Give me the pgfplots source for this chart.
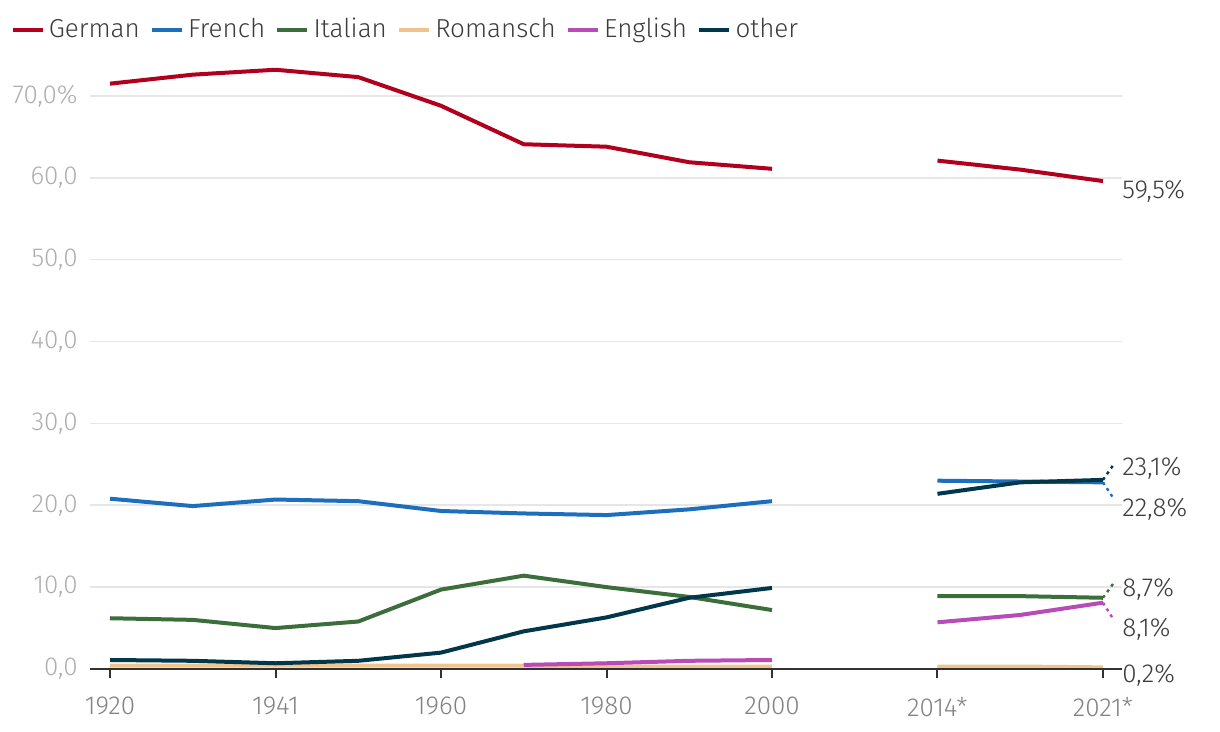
\documentclass[border=0pt]{standalone}
\usepackage{pgfplots}
\pgfplotsset{compat=1.18}
\usepackage{pgfplotstable}
\usepackage{fontspec}
\setmainfont{Fira Sans Light}
\definecolor{cGer}{RGB}{176,0,30}
\definecolor{cFre}{RGB}{30,110,190}
\definecolor{cIta}{RGB}{60,110,60}
\definecolor{cRom}{RGB}{240,195,140}
\definecolor{cEng}{RGB}{185,75,185}
\definecolor{cOth}{RGB}{0,55,75}
\definecolor{txt}{RGB}{60,60,60}
\definecolor{ylab}{RGB}{175,175,175}
\definecolor{xlab}{RGB}{130,130,130}
\definecolor{gridc}{RGB}{230,230,230}
\definecolor{axc}{RGB}{50,50,50}
\pgfplotstableread{
x German French Italian Romansch English other
0 71.5 20.8 6.2 0.4 nan 1.1
1 72.6 19.9 6.0 0.4 nan 1.0
2 73.2 20.7 5.0 0.4 nan 0.7
3 72.3 20.5 5.8 0.4 nan 1.0
4 68.8 19.3 9.7 0.4 nan 2.0
5 64.1 19.0 11.4 0.4 0.5 4.6
6 63.8 18.8 10.0 0.3 0.7 6.3
7 61.9 19.5 8.8 0.3 1.0 8.7
8 61.1 20.5 7.2 0.3 1.1 9.9
9 nan nan nan nan nan nan
10 62.1 23.0 8.9 0.3 5.7 21.4
11 61.0 22.9 8.9 0.3 6.6 22.8
12 59.6 22.8 8.7 0.2 8.1 23.1
}\data
\begin{document}
\fontsize{13}{15}\selectfont
\begin{tikzpicture}
\useasboundingbox (-45pt,-31.5pt) rectangle (565pt,334.5pt);
\begin{axis}[
  scale only axis,
  width=516pt, height=302.9pt,
  xmin=-0.242, xmax=12.23,
  ymin=0, ymax=74,
  unbounded coords=jump,
  clip=false,
  axis line style={draw=none},
  axis x line*=bottom,
  axis y line*=left,
  xtick={0,2,4,6,8,10,12},
  xticklabels={1920,1941,1960,1980,2000,2014*,2021*},
  ytick={0,10,20,30,40,50,60,70},
  yticklabels={{0,0},{10,0},{20,0},{30,0},{40,0},{50,0},{60,0},{70,0\%}},
  ymajorgrids=true,
  grid style={gridc, line width=0.8pt},
  tick align=outside,
  major tick length=4.5pt,
  xtick style={axc, line width=1pt},
  ytick style={draw=none},
  xticklabel style={font=\fontsize{13}{15}\selectfont, text=xlab, anchor=north, inner sep=0pt, yshift=-9.5pt},
  yticklabel style={font=\fontsize{13}{15}\selectfont, text=ylab, anchor=east, inner sep=0pt, xshift=-1.5pt},
  legend columns=-1,
  legend style={draw=none, fill=none, inner sep=0pt, at={(-0.0775,1.0548)}, anchor=west,
    font=\fontsize{13}{15}\selectfont, text=txt,
    /tikz/every even column/.append style={column sep=3pt},
    nodes={inner sep=2pt}},
  legend image code/.code={\draw[#1, line width=2.2pt] (0pt,0pt) -- (15pt,0pt);},
  every axis plot/.append style={line width=2pt, line join=round, mark=none},
]
\addplot[cGer] table[x=x,y=German]{\data};
\addlegendentry{German}
\addplot[cFre] table[x=x,y=French]{\data};
\addlegendentry{French}
\addplot[cIta] table[x=x,y=Italian]{\data};
\addlegendentry{Italian}
\addplot[cRom] table[x=x,y=Romansch]{\data};
\addlegendentry{Romansch}
\addplot[cEng] table[x=x,y=English]{\data};
\addlegendentry{English}
\addplot[cOth] table[x=x,y=other]{\data};
\addlegendentry{other}
\draw[axc, line width=1pt] (axis cs:-0.242,0) -- (axis cs:12.23,0);
\draw[cOth, line width=1.2pt, dash pattern=on 1.5pt off 2pt] (axis cs:12,23.1) -- (axis cs:12.13,25.0);
\draw[cFre, line width=1.2pt, dash pattern=on 1.5pt off 2pt] (axis cs:12,22.8) -- (axis cs:12.13,20.8);
\draw[cIta, line width=1.2pt, dash pattern=on 1.5pt off 2pt] (axis cs:12,8.7) -- (axis cs:12.13,10.5);
\draw[cEng, line width=1.2pt, dash pattern=on 1.5pt off 2pt] (axis cs:12,8.1) -- (axis cs:12.13,6.0);
\node[anchor=base west, inner sep=0pt, text=txt] at (axis cs:12.23,57.5) {59,5\%};
\node[anchor=base west, inner sep=0pt, text=txt] at (axis cs:12.23,23.6) {23,1\%};
\node[anchor=base west, inner sep=0pt, text=txt] at (axis cs:12.23,18.6) {22,8\%};
\node[anchor=base west, inner sep=0pt, text=txt] at (axis cs:12.23,8.8) {8,7\%};
\node[anchor=base west, inner sep=0pt, text=txt] at (axis cs:12.23,4.0) {8,1\%};
\node[anchor=base west, inner sep=0pt, text=txt] at (axis cs:12.23,-1.7) {0,2\%};
\end{axis}
\end{tikzpicture}
\end{document}
